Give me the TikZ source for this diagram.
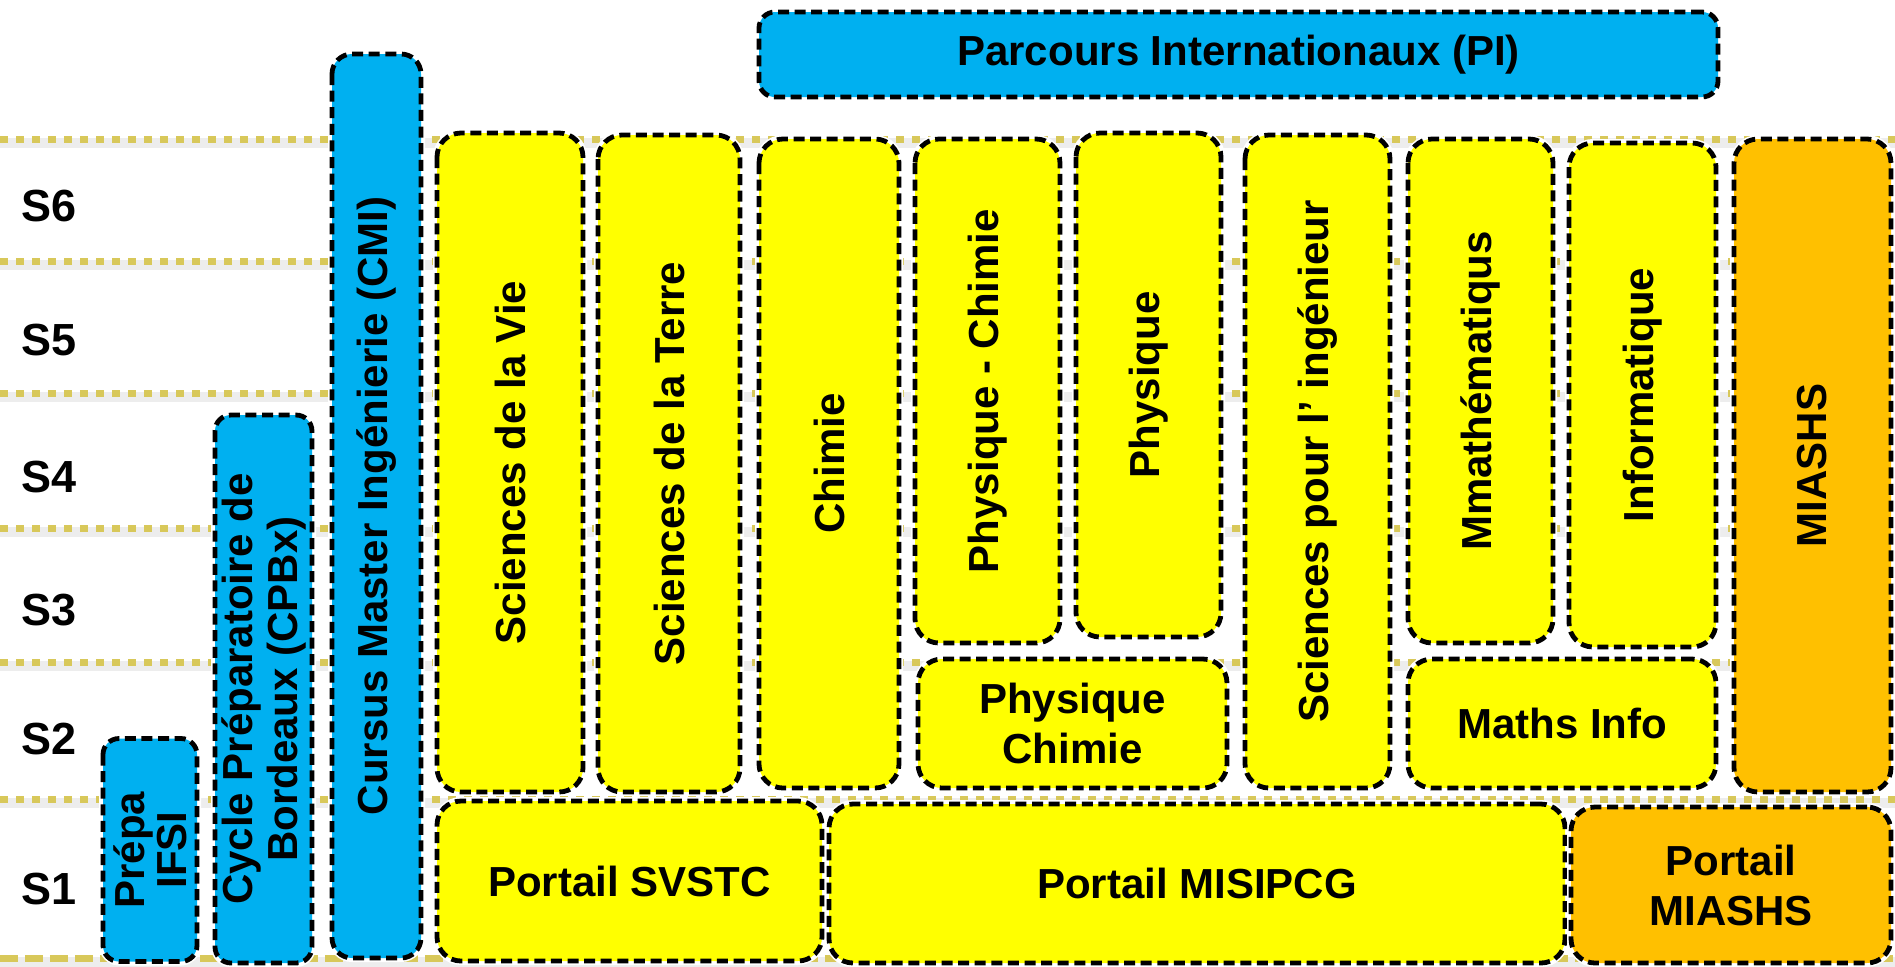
\documentclass[tikz,border=0pt]{standalone}
\usepackage{fontspec}
\setmainfont{Liberation Sans}
\definecolor{piblue}{RGB}{0,176,240}
\definecolor{lyellow}{RGB}{255,255,0}
\definecolor{lorange}{RGB}{255,192,0}
\definecolor{semgold}{RGB}{216,200,90}
\begin{document}
\begin{tikzpicture}[x=0.5pt,y=-0.5pt]
    \tikzstyle{every node}=[font=\bfseries\fontsize{21}{25}\selectfont]
    \tikzstyle{parcours}=[rectangle, rounded corners=12pt, draw=black, line width=2.4pt, dash pattern=on 5.5pt off 2.8pt, preaction={draw=white, solid, line width=4pt}, align=center, inner sep=0pt]
    \tikzstyle{licence}=[parcours, fill=lyellow]
    \tikzstyle{miashs}=[parcours, fill=lorange]
    \tikzstyle{hors}=[parcours, fill=piblue, rounded corners=8pt]
    \tikzstyle{semestre}=[font=\bfseries\fontsize{22.5}{27}\selectfont]
    \tikzstyle{sep}=[draw=semgold, line width=3.5pt, dash pattern=on 4pt off 4pt]
    \useasboundingbox (0,0) rectangle (1895,966);
    % semester lines
    \foreach \y in {139,261,393,528,662,799} {
      \draw[black, opacity=0.07, line width=5pt] (0,\y+4) -- (1895,\y+4);
      \draw[sep] (0,\y) -- (1895,\y);
    }
    \draw[black, opacity=0.07, line width=5pt] (0,962) -- (1895,962);
    \draw[sep, dash pattern=on 9pt off 3.5pt] (0,958) -- (1895,958);
    % semester labels
    \node[semestre] (s6) at (49,206) {S6};
    \node[semestre] (s5) at (49,340) {S5};
    \node[semestre] (s4) at (49,477) {S4};
    \node[semestre] (s3) at (49,610) {S3};
    \node[semestre] (s2) at (49,739) {S2};
    \node[semestre] (s1) at (49,889) {S1};
    % outside the portals
    \node[hors, rotate=90, minimum width=111.5pt, minimum height=47pt, font=\bfseries\fontsize{21}{21}\selectfont] (ifsi) at (150,850) {Prépa\\IFSI};
    \node[hors, rotate=90, minimum width=274pt, minimum height=48.5pt, font=\bfseries\fontsize{21}{22.5}\selectfont] (cpbx) at (263.5,689) {Cycle Préparatoire de\\Bordeaux (CPBx)};
    \node[hors, rotate=90, rounded corners=10pt, minimum width=452pt, minimum height=44.5pt] (cmi) at (376.5,506) {Cursus Master Ingénierie (CMI)};
    \node[hors, minimum width=479.5pt, minimum height=42.5pt] (pi) at (1238.5,54.5) {Parcours Internationaux (PI)};
    % licences S2-S6
    \node[licence, rotate=90, minimum width=329.5pt, minimum height=73pt] (vie) at (510,462.5) {Sciences de la Vie};
    \node[licence, rotate=90, minimum width=328.5pt, minimum height=71pt] (terre) at (669,463.5) {Sciences de la Terre};
    \node[licence, rotate=90, minimum width=324.5pt, minimum height=70pt] (chimie) at (829,463.5) {Chimie};
    \node[licence, rotate=90, minimum width=252pt, minimum height=72.5pt] (phychi) at (987.5,391) {Physique - Chimie};
    \node[licence, rotate=90, minimum width=252pt, minimum height=72.5pt] (phy) at (1148.5,385) {Physique};
    \node[licence, rotate=90, minimum width=326.5pt, minimum height=72.5pt] (spi) at (1317.5,461.5) {Sciences pour l’ ingénieur};
    \node[licence, rotate=90, minimum width=252pt, minimum height=72.5pt] (mmath) at (1480.5,391) {Mmathématiqus};
    \node[licence, rotate=90, minimum width=252pt, minimum height=73.5pt] (info) at (1642.5,395) {Informatique};
    \node[miashs, rotate=90, minimum width=326.5pt, minimum height=78.5pt] (miashs) at (1812.5,465.5) {MIASHS};
    \node[licence, minimum width=154.5pt, minimum height=64.5pt] (pc2) at (1072.5,723.5) {Physique\\Chimie};
    \node[licence, minimum width=154pt, minimum height=64.5pt] (mi2) at (1562,723.5) {Maths Info};
    % portals S1
    \node[licence, minimum width=192.5pt, minimum height=80pt] (svstc) at (629.5,881) {Portail SVSTC};
    \node[licence, minimum width=368pt, minimum height=79.5pt] (misipcg) at (1197,883.5) {Portail MISIPCG};
    \node[miashs, minimum width=160pt, minimum height=78pt] (pmiashs) at (1731,885) {Portail\\MIASHS};
\end{tikzpicture}
\end{document}
